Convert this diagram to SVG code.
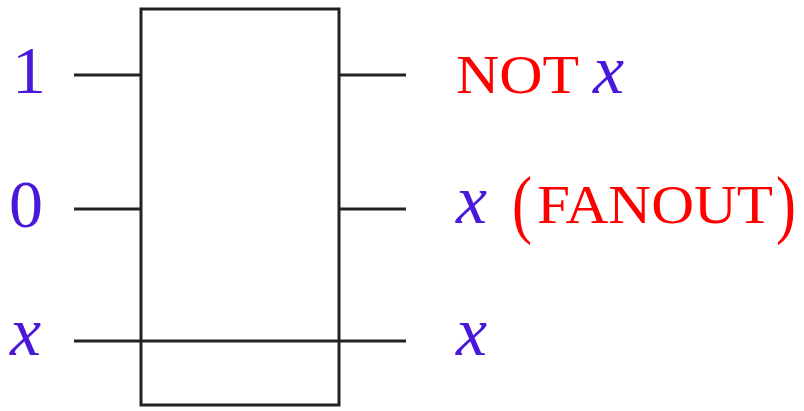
<svg xmlns="http://www.w3.org/2000/svg" width="804" height="411" viewBox="0 0 804 411">
<style>
.w{stroke:#222;stroke-width:3;fill:none}
.b{fill:#4a18d8;font-family:"Liberation Serif",serif}
.i{font-style:italic}
.r{fill:#ff0000;font-family:"Liberation Serif",serif}
</style>
<rect width="804" height="411" fill="#fff"/>
<g id="gate"><rect class="w" x="141" y="9" width="198" height="396"/></g>
<g id="connectors">
<line class="w" x1="74" y1="75" x2="141" y2="75"/>
<line class="w" x1="74" y1="209" x2="141" y2="209"/>
<line class="w" x1="74" y1="341" x2="406" y2="341"/>
<line class="w" x1="339" y1="75" x2="406" y2="75"/>
<line class="w" x1="339" y1="209" x2="406" y2="209"/>
</g>
<g id="in1"><text class="b" x="12" y="93" font-size="68">1</text></g>
<g id="in0"><text class="b" x="9" y="227" font-size="68">0</text></g>
<g id="inx"><text class="b i" x="10" y="355" font-size="70">x</text></g>
<g id="out1"><text class="r" x="456" y="93" font-size="55" textLength="123" lengthAdjust="spacingAndGlyphs">NOT</text><text class="b i" x="593" y="93" font-size="70">x</text></g>
<g id="out2"><text class="b i" x="456" y="223" font-size="70">x</text><text class="r" x="512" y="229" font-size="76" textLength="20" lengthAdjust="spacingAndGlyphs">(</text><text class="r" x="537" y="223" font-size="55" textLength="236" lengthAdjust="spacingAndGlyphs">FANOUT</text><text class="r" x="776" y="229" font-size="76" textLength="20" lengthAdjust="spacingAndGlyphs">)</text></g>
<g id="out3"><text class="b i" x="456" y="355" font-size="70">x</text></g>
</svg>
